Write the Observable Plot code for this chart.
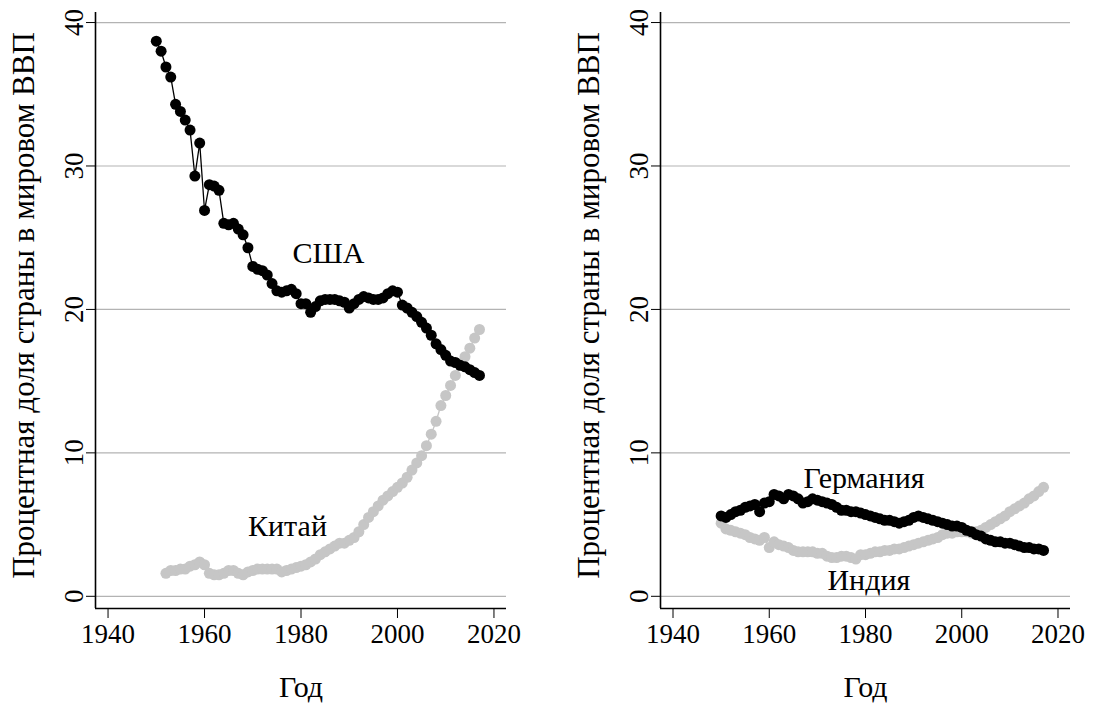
<!DOCTYPE html>
<html><head><meta charset="utf-8">
<script src="https://cdn.jsdelivr.net/npm/d3@7"></script>
<script src="https://cdn.jsdelivr.net/npm/@observablehq/plot@0.6"></script>
<style>
body{margin:0;background:#fff;}
#wrap{display:flex;width:1095px;height:712px;overflow:hidden;}
</style></head><body><div id="wrap"></div>
<script>
// Years
const yearsAll = d3.range(1950, 2018);
const yearsChina = d3.range(1952, 2018);

// Percent share of world GDP
const usa = [38.7,38.0,36.9,36.2,34.3,33.8,33.2,32.5,29.3,31.6,
  26.9,28.7,28.6,28.3,26.0,25.9,26.0,25.6,25.2,24.3,
  23.0,22.8,22.7,22.4,21.8,21.3,21.2,21.3,21.4,21.1,
  20.4,20.4,19.8,20.2,20.6,20.7,20.7,20.7,20.6,20.5,
  20.1,20.4,20.7,20.9,20.8,20.7,20.7,20.8,21.1,21.3,
  21.2,20.3,20.1,19.8,19.5,19.1,18.7,18.2,17.6,17.2,
  16.8,16.4,16.3,16.1,16.0,15.8,15.6,15.4];
const china = [1.6,1.8,1.8,1.9,1.9,2.1,2.2,2.4,
  2.2,1.6,1.5,1.5,1.6,1.8,1.8,1.6,1.5,1.7,
  1.8,1.9,1.9,1.9,1.9,1.9,1.7,1.8,1.9,2.0,
  2.1,2.2,2.4,2.6,2.9,3.1,3.3,3.5,3.7,3.7,
  3.9,4.1,4.5,5.0,5.5,5.9,6.3,6.7,7.0,7.3,
  7.6,7.9,8.3,8.8,9.3,9.8,10.5,11.3,12.2,13.3,
  14.0,14.7,15.4,16.1,16.7,17.3,18.0,18.6];
const germany = [5.6,5.5,5.7,5.9,6.0,6.2,6.3,6.4,5.9,6.5,
  6.6,7.1,7.0,6.8,7.1,7.0,6.8,6.5,6.6,6.8,
  6.7,6.6,6.5,6.4,6.2,6.0,6.0,5.9,5.9,5.8,
  5.7,5.6,5.5,5.4,5.3,5.3,5.2,5.1,5.2,5.3,
  5.5,5.6,5.5,5.4,5.3,5.2,5.1,5.0,4.9,4.9,
  4.8,4.6,4.5,4.3,4.2,4.0,3.9,3.8,3.8,3.7,
  3.7,3.6,3.5,3.4,3.4,3.3,3.3,3.2];
const india = [5.1,4.7,4.6,4.5,4.4,4.3,4.1,4.0,3.9,4.1,
  3.4,3.8,3.6,3.5,3.4,3.2,3.1,3.1,3.1,3.1,
  3.0,3.0,2.8,2.7,2.7,2.8,2.8,2.7,2.6,2.9,
  2.9,3.0,3.1,3.1,3.2,3.2,3.3,3.3,3.4,3.5,
  3.6,3.7,3.8,3.9,4.0,4.1,4.3,4.4,4.4,4.5,
  4.5,4.5,4.4,4.5,4.6,4.8,5.0,5.2,5.4,5.6,
  5.9,6.1,6.3,6.5,6.8,7.0,7.3,7.6];

// Tick values and text
const xTicks = [1940, 1960, 1980, 2000, 2020];
const yTicks = [0, 10, 20, 30, 40];
const xTitle = "Год";
const yTitle = "Процентная доля страны в мировом ВВП";

// Series labels (anchor year, value)
const leftLabels = [
  {text: "США", year: 1985.7, value: 23.9},
  {text: "Китай", year: 1977.2, value: 4.9}
];
const rightLabels = [
  {text: "Германия", year: 1979.7, value: 8.2},
  {text: "Индия", year: 1980.7, value: 1.1}
];

const FONT = "'Liberation Serif', serif";
const BLACK = "#000";
const GRAY = "#c6c6c6";
const xDomain = [1937.4, 2022.6];
const yDomain = [-0.85, 40.7];

function toRows(years, vals) { return years.map((y, i) => ({year: y, value: vals[i]})); }

function panel(series, labels, width, marginRight) {
  const marks = [
    Plot.gridY(yTicks, {stroke: "#b3b3b3", strokeOpacity: 1, strokeWidth: 1.2}),
    Plot.ruleX([xDomain[0]], {stroke: BLACK, strokeWidth: 1.6}),
    Plot.ruleY([yDomain[0]], {stroke: BLACK, strokeWidth: 1.6}),
    Plot.axisX({ticks: xTicks, tickFormat: d => String(d), tickSize: 10, tickPadding: 5,
      fontSize: 27, label: null}),
    Plot.axisY({ticks: yTicks, tickSize: 9, tickFormat: () => "", label: null}),
    Plot.text(yTicks, {x: xDomain[0], y: d => d, text: d => String(d), rotate: -90,
      textAnchor: "middle", lineAnchor: "bottom", dx: -13, fontSize: 27, fill: BLACK}),
    Plot.text([yTitle], {frameAnchor: "left", text: d => d, rotate: -90, textAnchor: "middle",
      lineAnchor: "top", dx: -84, dy: -5, fontSize: 31, fill: BLACK}),
    Plot.text([xTitle], {frameAnchor: "bottom", text: d => d, textAnchor: "middle",
      lineAnchor: "bottom", dy: 88, fontSize: 30, fill: BLACK})
  ];
  for (const s of series) {
    marks.push(Plot.line(s.rows, {x: "year", y: "value", stroke: s.color, strokeWidth: 1.3}));
    marks.push(Plot.dot(s.rows, {x: "year", y: "value", fill: s.color, r: 5.5}));
  }
  marks.push(Plot.text(labels, {x: "year", y: "value", text: "text", fontSize: 30, fill: BLACK}));
  return Plot.plot({
    width, height: 712,
    marginLeft: 95, marginRight, marginTop: 12, marginBottom: 104,
    style: {fontFamily: FONT, fontSize: "27px", color: BLACK, background: "#fff", overflow: "visible"},
    x: {domain: xDomain},
    y: {domain: yDomain},
    marks
  });
}

const left = panel([
  {rows: toRows(yearsChina, china), color: GRAY},
  {rows: toRows(yearsAll, usa), color: BLACK}
], leftLabels, 565, 59);
const right = panel([
  {rows: toRows(yearsAll, india), color: GRAY},
  {rows: toRows(yearsAll, germany), color: BLACK}
], rightLabels, 530, 25);
document.getElementById("wrap").append(left, right);
</script></body></html>
